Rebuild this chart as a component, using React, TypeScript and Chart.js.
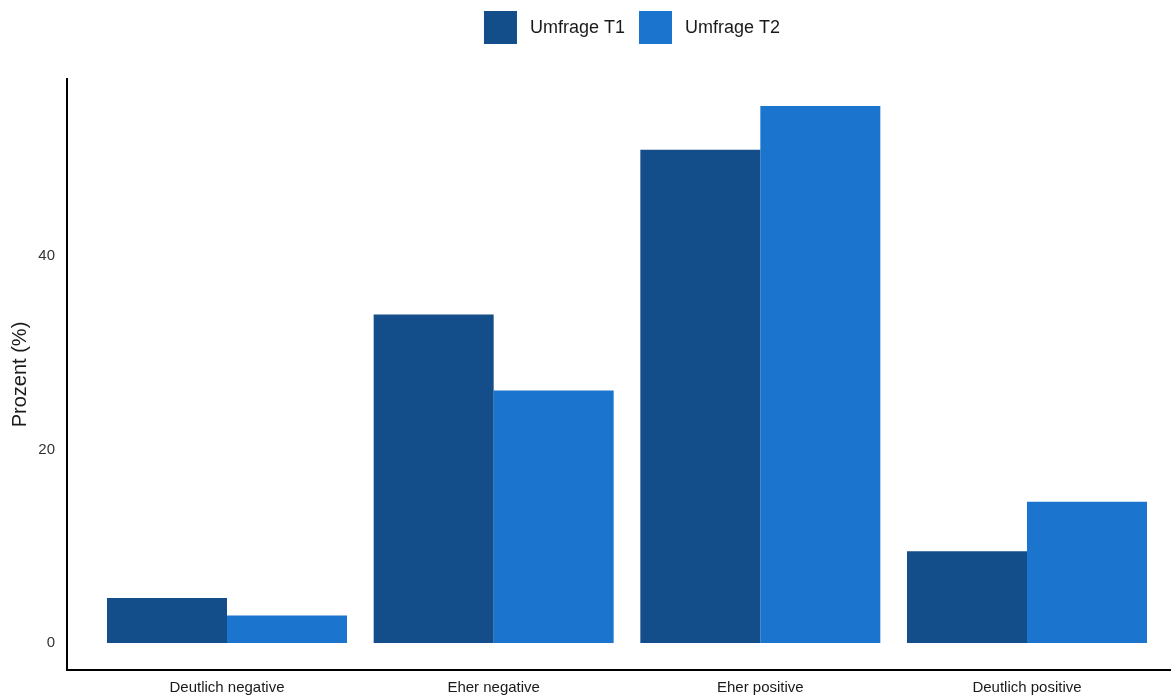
import React, { useEffect, useRef } from "react";
import { Chart, registerables } from "chart.js";

Chart.register(...registerables);

const categories = ["Deutlich negative", "Eher negative", "Eher positive", "Deutlich positive"];
const seriesNames = ["Umfrage T1", "Umfrage T2"];
const valuesT1 = [4.65, 33.95, 51.0, 9.5];
const valuesT2 = [2.86, 26.1, 55.5, 14.6];
const yTicks = [0, 20, 40];
const colors = ["#134e8a", "#1b75cf"];

const FONT = "'Liberation Sans', Arial, Helvetica, sans-serif";

const legendPlugin = {
  id: "customLegend",
  afterDraw(chart: any) {
    const ctx = chart.ctx;
    const box = 33;
    const gapText = 13;
    const gapItem = 14;
    ctx.save();
    ctx.font = `18px ${FONT}`;
    const widths = chart.data.datasets.map((d: any) => ctx.measureText(d.label).width);
    const total = widths.reduce((a: number, w: number) => a + box + gapText + w, 0) + gapItem * (widths.length - 1);
    let x = 632 - total / 2;
    const yTop = 11;
    chart.data.datasets.forEach((d: any, i: number) => {
      ctx.fillStyle = d.backgroundColor;
      ctx.fillRect(x, yTop, box, box);
      ctx.fillStyle = "#1a1a1a";
      ctx.textBaseline = "middle";
      ctx.textAlign = "left";
      ctx.fillText(d.label, x + box + gapText, yTop + box / 2 + 1);
      x += box + gapText + widths[i] + gapItem;
    });
    ctx.restore();
  },
};

export default function App() {
  const ref = useRef<HTMLCanvasElement | null>(null);
  useEffect(() => {
    document.body.style.margin = "0";
    const canvas = ref.current!;
    const chart = new Chart(canvas, {
      type: "bar",
      data: {
        datasets: [
          {
            label: seriesNames[0],
            data: valuesT1.map((v, i) => ({ x: i + 1, y: v })),
            backgroundColor: colors[0],
            borderWidth: 0,
            categoryPercentage: 0.9,
            barPercentage: 1.0,
          },
          {
            label: seriesNames[1],
            data: valuesT2.map((v, i) => ({ x: i + 1, y: v })),
            backgroundColor: colors[1],
            borderWidth: 0,
            categoryPercentage: 0.9,
            barPercentage: 1.0,
          },
        ],
      },
      options: {
        responsive: false,
        animation: false,
        devicePixelRatio: 1,
        layout: { padding: { top: 79, left: 0, right: 0, bottom: 0 } },
        plugins: {
          legend: { display: false },
          tooltip: { enabled: false },
        },
        scales: {
          x: {
            type: "linear",
            bounds: "data",
            offset: false,
            min: 0.4,
            max: 4.54,
            grid: { display: false, drawTicks: false, offset: false },
            border: { display: true, color: "#000", width: 2 },
            afterBuildTicks: (scale: any) => {
              scale.ticks = categories.map((_, i) => ({ value: i + 1 }));
            },
            afterFit: (scale: any) => {
              scale.height = 29;
            },
            ticks: {
              padding: 9,
              autoSkip: false,
              maxRotation: 0,
              color: "#1a1a1a",
              font: { family: FONT, size: 15 },
              callback: (v: any) => categories[Math.round(Number(v)) - 1] ?? "",
            },
          },
          y: {
            type: "linear",
            bounds: "data",
            min: -2.78,
            max: 58.3,
            grid: { display: false, drawTicks: false },
            border: { display: true, color: "#000", width: 2 },
            afterBuildTicks: (scale: any) => {
              scale.ticks = yTicks.map((v) => ({ value: v }));
            },
            afterFit: (scale: any) => {
              scale.width = 67;
            },
            ticks: {
              padding: 12,
              color: "#333",
              font: { family: FONT, size: 15 },
              callback: (v: any) => String(v),
            },
            title: {
              display: true,
              text: "Prozent (%)",
              color: "#1a1a1a",
              font: { family: FONT, size: 20 },
              padding: { top: 8, bottom: 0 },
            },
          },
        },
      },
      plugins: [legendPlugin],
    } as any);
    return () => chart.destroy();
  }, []);
  return (
    <div style={{ width: 1171, height: 699, overflow: "hidden", background: "#fff" }}>
      <canvas ref={ref} width={1171} height={699} style={{ display: "block" }} />
    </div>
  );
}
